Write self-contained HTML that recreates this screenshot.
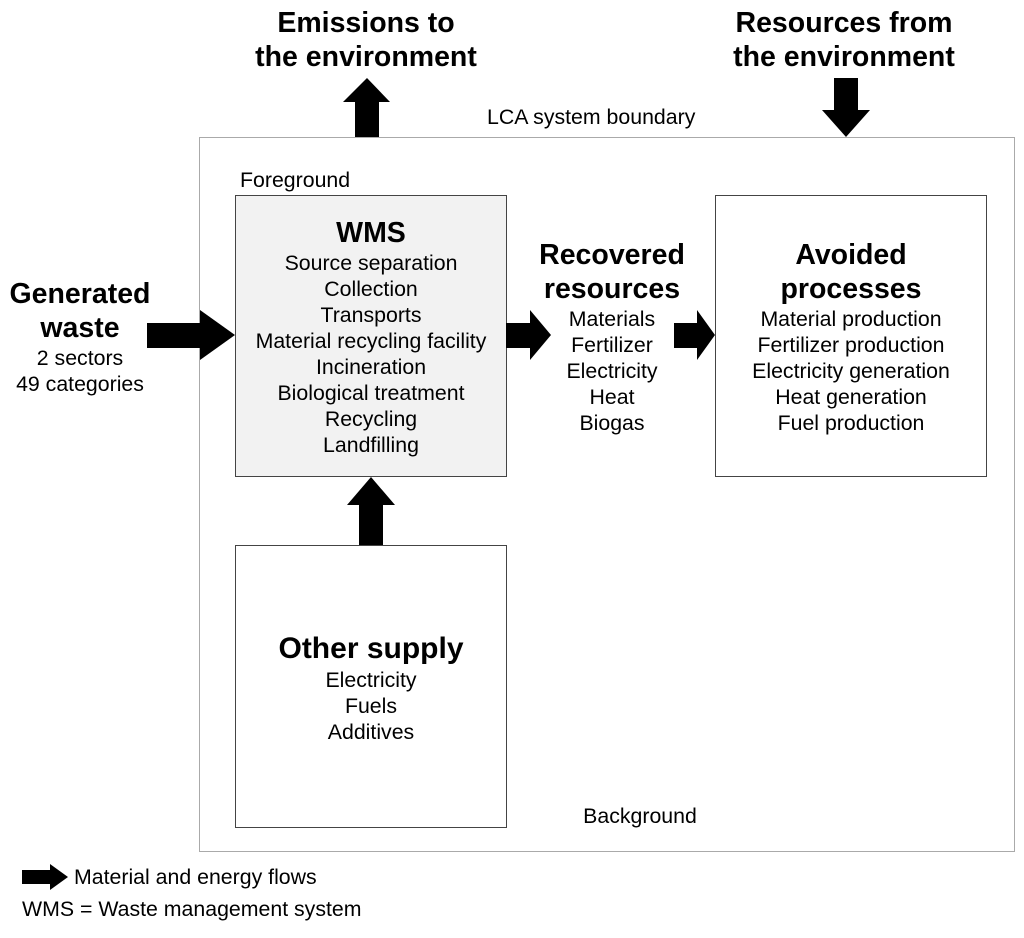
<!DOCTYPE html>
<html><head><style>
body{margin:0;background:#fff;width:1024px;height:938px;position:relative;overflow:hidden;font-family:"Liberation Sans",Arial,sans-serif;color:#000}
.a{position:absolute}
.t{position:absolute;text-align:center;font-weight:bold;font-size:28.5px;line-height:34px;white-space:nowrap}
.b{position:absolute;text-align:center;font-size:21.3px;line-height:26px;white-space:nowrap}
.box{position:absolute;border:1px solid #444;box-sizing:border-box}
</style></head><body>
<div class="box" style="left:199px;top:137px;width:816px;height:715px;border-color:#aaa"></div>
<div class="box" style="left:235px;top:195px;width:272px;height:282px;background:#f2f2f2"></div>
<div class="box" style="left:715px;top:195px;width:272px;height:282px"></div>
<div class="box" style="left:235px;top:545px;width:272px;height:283px"></div>
<svg class="a" style="left:0;top:0" width="1024" height="938">
<g fill="#000">
<polygon points="355,137 379,137 379,102 390,102 367,78 343,102 355,102"/>
<polygon points="834,78 858,78 858,110 870,110 846,137 822,110 834,110"/>
<polygon points="147,323 200,323 200,310 235,335 200,360 200,348 147,348"/>
<polygon points="506,323 530,323 530,310 551,335 530,360 530,348 506,348"/>
<polygon points="674,323 697,323 697,310 715,335 697,360 697,348 674,348"/>
<polygon points="359,545 383,545 383,505 395,505 371,477 347,505 359,505"/>
<polygon points="22,870 50,870 50,864 68,877 50,890 50,884 22,884"/>
</g></svg>
<div class="t" style="left:236px;top:6px;width:260px">Emissions to<br>the environment</div>
<div class="t" style="left:714px;top:6px;width:260px">Resources from<br>the environment</div>
<div class="b" style="left:487px;top:104px;width:220px;text-align:left">LCA system boundary</div>
<div class="b" style="left:240px;top:167px;width:200px;text-align:left">Foreground</div>
<div class="t" style="left:0;top:277px;width:160px">Generated<br>waste</div>
<div class="b" style="left:0;top:345px;width:160px">2 sectors<br>49 categories</div>
<div class="t" style="left:235px;top:216px;width:272px">WMS</div>
<div class="b" style="left:235px;top:250px;width:272px">Source separation<br>Collection<br>Transports<br>Material recycling facility<br>Incineration<br>Biological treatment<br>Recycling<br>Landfilling</div>
<div class="t" style="left:512px;top:238px;width:200px">Recovered<br>resources</div>
<div class="b" style="left:512px;top:306px;width:200px">Materials<br>Fertilizer<br>Electricity<br>Heat<br>Biogas</div>
<div class="t" style="left:715px;top:238px;width:272px">Avoided<br>processes</div>
<div class="b" style="left:715px;top:306px;width:272px">Material production<br>Fertilizer production<br>Electricity generation<br>Heat generation<br>Fuel production</div>
<div class="t" style="left:235px;top:632px;width:272px;font-size:30px">Other supply</div>
<div class="b" style="left:235px;top:667px;width:272px">Electricity<br>Fuels<br>Additives</div>
<div class="b" style="left:560px;top:803px;width:160px">Background</div>
<div class="b" style="left:74px;top:864px;width:300px;text-align:left">Material and energy flows</div>
<div class="b" style="left:22px;top:896px;width:400px;text-align:left">WMS = Waste management system</div>
</body></html>
